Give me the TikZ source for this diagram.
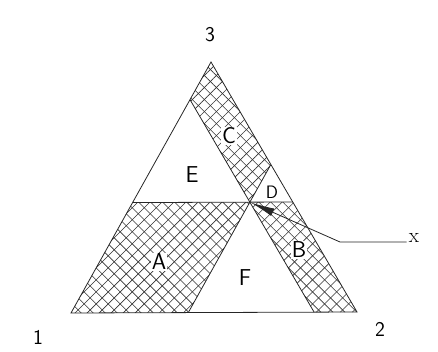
\documentclass[tikz,border=0pt]{standalone}
\usetikzlibrary{arrows.meta,patterns.meta,calc}

\begin{document}
\begin{tikzpicture}[x=1pt,y=-1pt,
  edge/.style={line width=0.8pt,black!85},
  hatch/.style={pattern={Lines[angle=45,distance=8.5pt,line width=0.6pt]},pattern color=black!80,
    postaction={pattern={Lines[angle=-45,distance=8.5pt,line width=0.6pt]},pattern color=black!80}},
  region/.style={font=\sffamily\fontsize{23}{23}\selectfont,fill=white,inner sep=1pt},
  corner/.style={font=\sffamily\fontsize{21}{21}\selectfont},
]
  \useasboundingbox (0,0) rectangle (438,352);

  % corners and the point P
  \coordinate (v1) at (71,313);
  \coordinate (v2) at (357,312);
  \coordinate (v3) at (211,62);
  \coordinate (P) at (barycentric cs:v1=0.15,v2=0.41,v3=0.44);
  \coordinate (a2) at ($(v1)!0.41!(v2)$);
  \coordinate (a4) at ($(v1)!0.44!(v3)$);
  \coordinate (b2) at ($(v2)!0.15!(v1)$);
  \coordinate (r)  at ($(v2)!0.44!(v3)$);
  \coordinate (l1) at ($(v3)!0.15!(v1)$);
  \coordinate (q)  at ($(v3)!0.41!(v2)$);

  % hatched regions
  \fill[hatch] (v1) -- (a2) -- (P) -- (a4) -- cycle;
  \fill[hatch] (P) -- (b2) -- (v2) -- (r) -- cycle;
  \fill[hatch] (v3) -- (l1) -- (P) -- (q) -- cycle;

  % triangle and the lines through P
  \draw[edge] (v1) -- (v2) -- (v3) -- cycle;
  \draw[edge] (a4) -- (r);
  \draw[edge] (l1) -- (b2);
  \draw[edge] (q) -- (a2);

  \node[corner] (n1) at (38,337) {1};
  \node[corner] (n2) at (380,329) {2};
  \node[corner] (n3) at (210,35) {3};

  \node[region] (A) at (159,262) {A};
  \node[region] (B) at (299,250) {B};
  \node[region] (C) at (229,136) {C};
  \node[region,font=\sffamily\fontsize{18}{18}\selectfont] (D) at (272,192) {D};
  \node[region] (E) at (192,175) {E};
  \node[region] (F) at (245,278) {F};

  % pointer to P
  \node[font=\fontsize{21}{21}\selectfont,inner sep=2pt] (x) at (414,238) {x};
  \coordinate (bend) at (340,242);
  \draw[edge,-{Latex[length=24pt,width=8pt]},shorten >=1pt] (x.west |- bend) -- (bend) -- (P);
\end{tikzpicture}
\end{document}
